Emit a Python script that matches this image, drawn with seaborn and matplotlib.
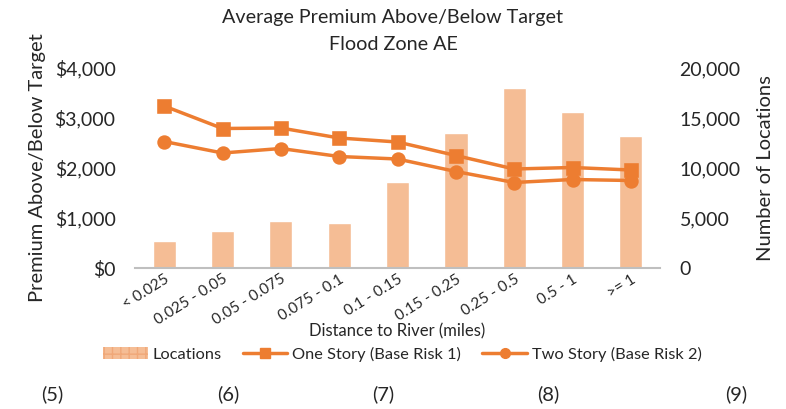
import matplotlib
matplotlib.use("Agg")
import matplotlib.pyplot as plt
import seaborn as sns
import pandas as pd
from matplotlib.patches import Patch
from matplotlib.lines import Line2D
from matplotlib.ticker import FuncFormatter

sns.set_theme(style="white")
plt.rcParams["font.family"] = ["Lato", "DejaVu Sans"]

categories = ["< 0.025", "0.025 - 0.05", "0.05 - 0.075", "0.075 - 0.1", "0.1 - 0.15",
              "0.15 - 0.25", "0.25 - 0.5", "0.5 - 1", ">= 1"]
locations = [2700, 3700, 4700, 4500, 8600, 13500, 18000, 15600, 13200]
one_story = [3240, 2790, 2800, 2600, 2520, 2250, 1980, 2010, 1960]
two_story = [2530, 2300, 2390, 2230, 2180, 1930, 1710, 1770, 1750]

df = pd.DataFrame({"Distance": categories, "Locations": locations,
                   "One": one_story, "Two": two_story})

TEXT = "#262626"
ORANGE = "#ED7D31"
BAR = "#F5BD95"

fig = plt.figure(figsize=(7.86, 4.09), dpi=100)
ax = fig.add_axes([135 / 786, 1 - 268 / 409, 525 / 786, 200 / 409])

# Bars (location counts) on the right-hand scale
sns.barplot(data=df, x="Distance", y="Locations", color=BAR, width=0.4,
            saturation=1, ax=ax)

# Premium lines on the left-hand scale
ax2 = ax.twinx()
sns.pointplot(data=df, x="Distance", y="One", color=ORANGE, marker="s",
              markersize=9, linewidth=2.5, ax=ax2)
sns.pointplot(data=df, x="Distance", y="Two", color=ORANGE, marker="o",
              markersize=8.5, linewidth=2.5, ax=ax2)

ax.set_ylim(0, 20000)
ax.set_yticks([0, 5000, 10000, 15000, 20000])
ax.yaxis.set_major_formatter(FuncFormatter(lambda v, p: f"{int(v):,}"))
ax.yaxis.tick_right()
ax.yaxis.set_label_position("right")
ax.set_ylabel("Number of Locations", fontsize=14.5, color=TEXT, labelpad=12)
ax.set_xlabel("Distance to River (miles)", fontsize=12, color=TEXT, labelpad=-3)
ax.set_xlim(-0.5, 8.5)
ax.tick_params(axis="y", labelsize=14, colors=TEXT, length=0, pad=14)
ax.tick_params(axis="x", labelsize=11, colors=TEXT, length=0, pad=3)
plt.setp(ax.get_xticklabels(), rotation=32, ha="right", rotation_mode="anchor")
for s in ["top", "left", "right"]:
    ax.spines[s].set_visible(False)
ax.spines["bottom"].set_color("#BFBFBF")
ax.spines["bottom"].set_linewidth(1.5)

ax2.set_ylim(0, 4000)
ax2.set_xlim(-0.5, 8.5)
ax2.set_yticks([0, 1000, 2000, 3000, 4000])
ax2.yaxis.set_major_formatter(FuncFormatter(lambda v, p: f"${int(v):,}"))
ax2.yaxis.tick_left()
ax2.yaxis.set_label_position("left")
ax2.set_ylabel("Premium Above/Below Target", fontsize=14.5, color=TEXT, labelpad=6)
ax2.set_xlabel("")
ax2.tick_params(axis="y", labelsize=14, colors=TEXT, length=0, pad=14)
ax2.tick_params(axis="x", bottom=False, labelbottom=False)
for s in ["top", "left", "right", "bottom"]:
    ax2.spines[s].set_visible(False)

fig.text(0.5, 1 - 18 / 409, "Average Premium Above/Below Target", ha="center",
         va="center", fontsize=14.2, color=TEXT)
fig.text(0.5, 1 - 44 / 409, "Flood Zone AE", ha="center", va="center",
         fontsize=14.2, color=TEXT)

handles = [
    Patch(facecolor=BAR, edgecolor="#F0A878", hatch="++", linewidth=0),
    Line2D([], [], color=ORANGE, lw=2.5, marker="s", markersize=7),
    Line2D([], [], color=ORANGE, lw=2.5, marker="o", markersize=7),
]
labels = ["Locations", "One Story (Base Risk 1)", "Two Story (Base Risk 2)"]
fig.legend(handles, labels, loc="center", bbox_to_anchor=(0.512, 1 - 354 / 409),
           ncol=3, frameon=False, fontsize=11.8, handlelength=2.7,
           columnspacing=1.3, handletextpad=0.3, labelcolor=TEXT)

for xp, t in [(52, "(5)"), (228, "(6)"), (383, "(7)"), (548, "(8)"), (736, "(9)")]:
    fig.text(xp / 786, 1 - 394 / 409, t, ha="center", va="center",
             fontsize=14.5, color=TEXT)

fig.savefig("out.png", dpi=100)
